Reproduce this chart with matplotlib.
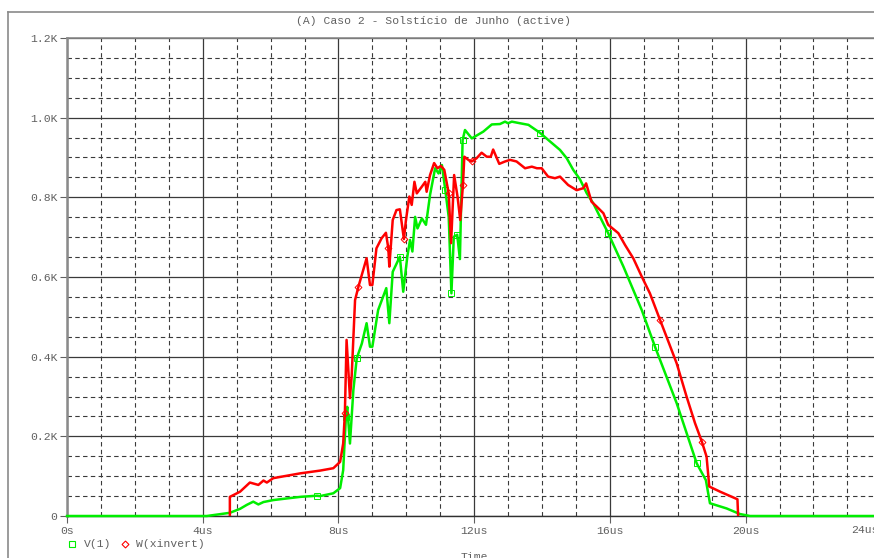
import matplotlib
matplotlib.use("Agg")
import matplotlib.pyplot as plt
from matplotlib.lines import Line2D
from matplotlib.ticker import MultipleLocator, FixedLocator

# ---- data (time in us, values in V / W) ----
t_v = [0, 4.12, 4.8, 5.1, 5.3, 5.49, 5.64, 5.79, 6.08, 6.87, 7.37, 7.46, 7.85, 8.05,
       8.14, 8.22, 8.26, 8.34, 8.44, 8.54, 8.69, 8.83, 8.93, 9.0, 9.17, 9.41, 9.5,
       9.6, 9.81, 9.91, 10.03, 10.11, 10.18, 10.26, 10.33, 10.46, 10.58, 10.7, 10.85,
       10.95, 11.05, 11.15, 11.25, 11.33, 11.4, 11.5, 11.58, 11.66, 11.73, 11.93,
       12.27, 12.52, 12.76, 12.91, 13.0, 13.11, 13.35, 13.6, 13.94, 14.24, 14.53,
       14.73, 14.92, 15.12, 15.32, 15.51, 15.95, 16.4, 16.94, 17.33, 17.97, 18.56,
       18.83, 18.95, 19.44, 19.83, 20.13, 24]
v_v = [0, 0, 8, 18, 28, 36, 29, 35, 40, 48, 51, 50, 57, 70,
       115, 249, 274, 182, 316, 396, 433, 484, 425, 425, 517, 572, 484,
       613, 651, 563, 651, 693, 664, 751, 722, 747, 731, 806, 873,
       860, 881, 818, 751, 559, 701, 706, 645, 944, 969, 948,
       965, 983, 984, 990, 986, 990, 986, 982, 962, 940, 919,
       898, 869, 845, 810, 785, 710, 626, 517, 425, 283, 132,
       90, 32, 19, 5, 0, 0]

t_w = [4.8, 4.8, 5.1, 5.39, 5.64, 5.79, 5.89, 6.08, 6.87, 7.46, 7.85, 8.05, 8.14,
       8.19, 8.24, 8.34, 8.39, 8.49, 8.59, 8.83, 8.93, 9.0, 9.12, 9.27, 9.4, 9.47,
       9.5, 9.6, 9.71, 9.81, 9.86, 9.93, 9.99, 10.09, 10.16, 10.24, 10.31, 10.46,
       10.56, 10.6, 10.7, 10.82, 10.92, 11.02, 11.12, 11.25, 11.32, 11.41, 11.51,
       11.59, 11.67, 11.71, 11.83, 11.93, 12.07, 12.22, 12.37, 12.49, 12.56, 12.74,
       12.91, 13.06, 13.25, 13.5, 13.7, 13.85, 13.99, 14.18, 14.38, 14.53, 14.77,
       15.02, 15.22, 15.3, 15.46, 15.61, 15.81, 15.95, 16.25, 16.45, 16.69, 16.94,
       17.18, 17.48, 17.67, 17.97, 18.26, 18.51, 18.71, 18.85, 18.93, 19.25, 19.76,
       19.78]
v_w = [0, 48, 61, 84, 78, 89, 84, 95, 107, 114, 120, 136, 182,
       258, 442, 296, 351, 542, 576, 647, 580, 580, 672, 697, 711, 672,
       626, 743, 768, 770, 739, 695, 743, 802, 781, 839, 810, 827,
       839, 814, 856, 886, 873, 879, 869, 810, 685, 856, 802,
       743, 831, 902, 894, 890, 898, 912, 902, 902, 920, 884,
       890, 894, 890, 873, 877, 873, 873, 852, 848, 852, 831,
       818, 823, 835, 789, 777, 760, 731, 710, 680, 647, 601,
       559, 492, 450, 383, 300, 233, 187, 149, 74, 61, 42,
       0]

x_ticks = [0, 4, 8, 12, 16, 20, 24]
x_tick_labels = ["0s", "4us", "8us", "12us", "16us", "20us", "24us"]
y_ticks = [0, 200, 400, 600, 800, 1000, 1200]
y_tick_labels = ["0", "0.2K", "0.4K", "0.6K", "0.8K", "1.0K", "1.2K"]
title = "(A) Caso 2 - Solstício de Junho (active)"
series_names = ["V(1)", "W(xinvert)"]
x_label = "Time"

GREEN = "#00ee00"
RED = "#ff0000"
TXT = "#606060"
FONT = "Liberation Mono"
FS = 8.2

W, H = 874, 558
fig = plt.figure(figsize=(W / 100, H / 100), dpi=100)
fig.patch.set_facecolor("white")

x0, x1 = 67, 881.3
y0, y1 = 516, 38
ax = fig.add_axes([x0 / W, (H - y0) / H, (x1 - x0) / W, (y0 - y1) / H])
ax.set_xlim(0, 24)
ax.set_ylim(0, 1200)

# grid
ax.xaxis.set_major_locator(FixedLocator(x_ticks))
ax.yaxis.set_major_locator(FixedLocator(y_ticks))
ax.xaxis.set_minor_locator(MultipleLocator(1))
ax.yaxis.set_minor_locator(MultipleLocator(50))
ax.grid(which="major", color="#3a3a3a", linewidth=0.9, linestyle="-")
ax.grid(which="minor", color="#3a3a3a", linewidth=0.8, linestyle=(0, (4, 3)))
ax.set_axisbelow(True)
ax.tick_params(which="minor", length=0)
ax.tick_params(which="major", length=5, color="#606060", width=0.8,
               labelcolor=TXT, labelsize=FS, pad=2)
# last x label is drawn shifted left (as in the reference), so blank it here
ax.set_xticklabels(x_tick_labels[:-1] + [""], fontfamily=FONT)
ax.set_yticklabels(y_tick_labels, fontfamily=FONT)

ax.spines["right"].set_visible(False)
ax.spines["left"].set_color("#8a8a8a")
ax.spines["left"].set_linewidth(1.8)
ax.spines["bottom"].set_color("#303030")
ax.spines["bottom"].set_linewidth(1.0)
ax.spines["top"].set_color("#8a8a8a")
ax.spines["top"].set_linewidth(1.2)

mk_v = [10, 15, 19, 28, 41, 43, 45, 47, 58, 66, 69, 71]
mk_w = [13, 18, 25, 31, 45, 50, 53, 83, 88]
ax.plot(t_v, v_v, color=GREEN, linewidth=1.8, marker="s", markersize=4,
        markerfacecolor="none", markeredgewidth=0.7, markevery=mk_v, zorder=3,
        clip_on=False)
ax.plot(t_w, v_w, color=RED, linewidth=1.8, marker="D", markersize=3.5,
        markerfacecolor="none", markeredgewidth=0.7, markevery=mk_w, zorder=4)

# shifted last tick label (cut at the right edge, as in the reference)
fig.text(851 / W, (H - 530) / H, x_tick_labels[-1], fontfamily=FONT, fontsize=FS,
         color=TXT, ha="left", va="center")

# window frame
fig.add_artist(Line2D([8 / W, 1], [(H - 12) / H, (H - 12) / H], color="#8a8a8a", lw=1.2))
fig.add_artist(Line2D([8 / W, 8 / W], [0, (H - 12) / H], color="#8a8a8a", lw=1.2))

# title
fig.text(433 / W, (H - 21) / H, title, fontfamily=FONT, fontsize=FS, color=TXT,
         ha="center", va="center")

# legend
ly = (H - 544) / H
fig.add_artist(Line2D([72 / W], [ly], marker="s", markersize=4, markerfacecolor="none",
                      markeredgecolor=GREEN, markeredgewidth=0.8, linestyle="none"))
fig.text(84 / W, ly, series_names[0], fontfamily=FONT, fontsize=FS, color=TXT,
         ha="left", va="center")
fig.add_artist(Line2D([125 / W], [ly], marker="D", markersize=3.5, markerfacecolor="none",
                      markeredgecolor=RED, markeredgewidth=0.8, linestyle="none"))
fig.text(136 / W, ly, series_names[1], fontfamily=FONT, fontsize=FS, color=TXT,
         ha="left", va="center")

# x label
fig.text(474 / W, (H - 557) / H, x_label, fontfamily=FONT, fontsize=FS, color=TXT,
         ha="center", va="center")

fig.savefig("out.png", dpi=100, facecolor="white")
